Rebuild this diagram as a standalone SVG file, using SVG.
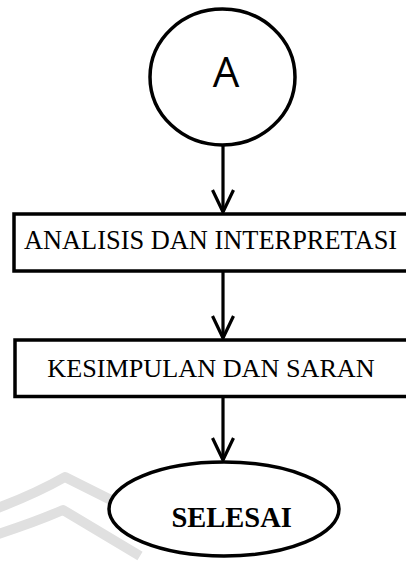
<svg xmlns="http://www.w3.org/2000/svg" width="406" height="561" viewBox="0 0 406 561">
<style>
.shape{fill:#fff;stroke:#000;stroke-width:3.5}
.conn{fill:none;stroke:#000;stroke-width:3.2}
.serif{font-family:"Liberation Serif","Times New Roman",serif;fill:#000}
.wm{fill:none;stroke:#e0e0e0;stroke-width:10;stroke-linejoin:round}
</style>
<defs>
<marker id="arr" markerUnits="userSpaceOnUse" orient="auto" overflow="visible" refX="0" refY="0" markerWidth="30" markerHeight="30">
<path d="M -22 -10.5 L 0 0 L -22 10.5" fill="none" stroke="#000" stroke-width="3.2"/>
</marker>
</defs>
<rect width="406" height="561" fill="#fff"/>
<g id="watermark">
<path class="wm" d="M -5 509 Q 35 494 65 477 L 115 502"/>
<path class="wm" d="M -5 535 Q 33 523 63 510 L 140 556"/>
</g>
<g id="connectors">
<line class="conn" x1="223" y1="146" x2="223" y2="212" marker-end="url(#arr)"/>
<line class="conn" x1="223" y1="272" x2="223" y2="338" marker-end="url(#arr)"/>
<line class="conn" x1="223" y1="398" x2="223" y2="460" marker-end="url(#arr)"/>
</g>
<g id="node-a">
<ellipse class="shape" cx="222.5" cy="77" rx="72.5" ry="68"/>
<text x="226" y="87.3" font-family="'Open Sans','DejaVu Sans',sans-serif" font-size="42" text-anchor="middle">A</text>
</g>
<g id="node-analisis">
<rect class="shape" x="14" y="214" width="410" height="57" stroke-width="4"/>
<text class="serif" x="210.5" y="249" font-size="26.4" text-anchor="middle">ANALISIS DAN INTERPRETASI</text>
</g>
<g id="node-kesimpulan">
<rect class="shape" x="15" y="340" width="410" height="56.5" stroke-width="4"/>
<text class="serif" x="211" y="377" font-size="26.2" text-anchor="middle">KESIMPULAN DAN SARAN</text>
</g>
<g id="node-selesai">
<ellipse class="shape" cx="224" cy="509" rx="115" ry="47"/>
<text class="serif" x="231.7" y="526.7" font-size="28.5" font-weight="bold" text-anchor="middle">SELESAI</text>
</g>
</svg>
